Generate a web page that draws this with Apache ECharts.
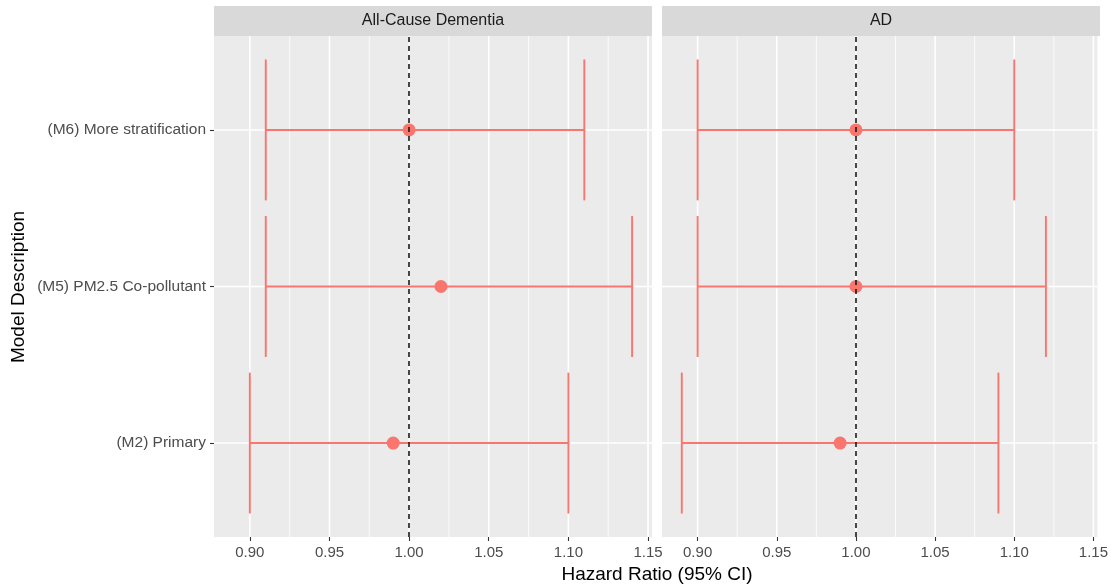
<!DOCTYPE html>
<html>
<head>
<meta charset="utf-8">
<script src="https://cdn.jsdelivr.net/npm/echarts@6/dist/echarts.min.js"></script>
<style>
  html, body { margin: 0; padding: 0; background: #ffffff; }
  #chart { width: 1111px; height: 586px; }
</style>
</head>
<body>
<div id="chart"></div>
<script>
// models, bottom to top
const models = ['(M2) Primary', '(M5) PM2.5 Co-pollutant', '(M6) More stratification']
const panels = ['All-Cause Dementia', 'AD']

const dementiaHR = [0.99, 1.02, 1.00]
const dementiaLower = [0.90, 0.91, 0.91]
const dementiaUpper = [1.10, 1.14, 1.11]

const adHR = [0.99, 1.00, 1.00]
const adLower = [0.89, 0.90, 0.90]
const adUpper = [1.09, 1.12, 1.10]

const xTicks = [0.90, 0.95, 1.00, 1.05, 1.10, 1.15]
const xMinor = [0.925, 0.975, 1.025, 1.075, 1.125]
const refHR = 1.0

const FONT = 'Liberation Sans, Arial, sans-serif'
const SALMON = '#F8766D'
const xMin = 0.8775, xMax = 1.1525

const chart = echarts.init(document.getElementById('chart'))

const grids = [
  { left: 214, top: 36, width: 438, height: 501 },
  { left: 662, top: 36, width: 438, height: 501 }
]

const xAxes = grids.map((g, i) => ({
  type: 'value',
  gridIndex: i,
  min: xMin,
  max: xMax,
  axisLine: { show: false },
  splitLine: { show: false },
  axisTick: { show: true, length: 4, customValues: xTicks, lineStyle: { color: '#333333', width: 1.1 } },
  axisLabel: {
    customValues: xTicks,
    formatter: v => v.toFixed(2),
    color: '#4D4D4D', fontSize: 15, fontFamily: FONT, margin: 8, hideOverlap: false
  }
}))

const yAxes = grids.map((g, i) => ({
  type: 'value',
  gridIndex: i,
  min: 0.4,
  max: 3.6,
  axisLine: { show: false },
  splitLine: { show: false },
  axisTick: { show: i === 0, length: 4, customValues: [1, 2, 3], lineStyle: { color: '#333333', width: 1.1 } },
  axisLabel: {
    show: i === 0,
    customValues: [1, 2, 3],
    formatter: v => models[Math.round(v) - 1] || '',
    color: '#4D4D4D', fontSize: 15.5, fontFamily: FONT, margin: 8
  }
}))

function gridSeries(idx) {
  const vLines = xTicks.map(v => [v, 1]).concat(xMinor.map(v => [v, 0]))
  const hLines = [1, 2, 3]
  return [
    {
      type: 'custom', xAxisIndex: idx, yAxisIndex: idx, z: 1, silent: true,
      data: vLines,
      renderItem: (params, api) => {
        const cs = params.coordSys
        const x = api.coord([api.value(0), 2])[0]
        return {
          type: 'line',
          shape: { x1: x, y1: cs.y, x2: x, y2: cs.y + cs.height },
          style: { stroke: '#ffffff', lineWidth: api.value(1) ? 1.6 : 0.8 }
        }
      }
    },
    {
      type: 'custom', xAxisIndex: idx, yAxisIndex: idx, z: 1, silent: true,
      data: hLines.map(v => [xMin, v]),
      renderItem: (params, api) => {
        const cs = params.coordSys
        const y = api.coord([xMin, api.value(1)])[1]
        return {
          type: 'line',
          shape: { x1: cs.x, y1: y, x2: cs.x + cs.width, y2: y },
          style: { stroke: '#ffffff', lineWidth: 1.6 }
        }
      }
    }
  ]
}

function errorSeries(idx, lower, upper) {
  return {
    type: 'custom', xAxisIndex: idx, yAxisIndex: idx, z: 3, silent: true,
    data: models.map((m, k) => [lower[k], k + 1, upper[k]]),
    renderItem: (params, api) => {
      const lo = api.coord([api.value(0), api.value(1)])
      const hi = api.coord([api.value(2), api.value(1)])
      const half = api.size([0, 0.9])[1] / 2
      const style = { stroke: SALMON, lineWidth: 1.9 }
      return {
        type: 'group',
        children: [
          { type: 'line', shape: { x1: lo[0], y1: lo[1], x2: hi[0], y2: hi[1] }, style },
          { type: 'line', shape: { x1: lo[0], y1: lo[1] - half, x2: lo[0], y2: lo[1] + half }, style },
          { type: 'line', shape: { x1: hi[0], y1: hi[1] - half, x2: hi[0], y2: hi[1] + half }, style }
        ]
      }
    }
  }
}

function pointSeries(idx, hr) {
  return {
    type: 'scatter', xAxisIndex: idx, yAxisIndex: idx, z: 4, silent: true,
    symbol: 'circle', symbolSize: 13,
    itemStyle: { color: SALMON, opacity: 1 },
    data: hr.map((v, k) => [v, k + 1])
  }
}

function refSeries(idx) {
  return {
    type: 'scatter', xAxisIndex: idx, yAxisIndex: idx, z: 5, silent: true,
    data: [],
    markLine: {
      silent: true, symbol: 'none', animation: false,
      label: { show: false },
      lineStyle: { color: '#1A1A1A', type: [5, 4], width: 1.6, opacity: 1 },
      data: [{ xAxis: refHR }]
    }
  }
}

const option = {
  backgroundColor: '#ffffff',
  animation: false,
  grid: grids.map(g => Object.assign({ backgroundColor: '#EBEBEB', show: true, borderWidth: 0 }, g)),
  xAxis: xAxes,
  yAxis: yAxes,
  graphic: [
    ...grids.map((g, i) => ({
      type: 'group', left: g.left, top: 6,
      children: [
        { type: 'rect', shape: { x: 0, y: 0, width: g.width, height: 30 }, style: { fill: '#D9D9D9' } },
        { type: 'text', x: g.width / 2, y: 15, style: { text: panels[i], fill: '#1A1A1A', font: '16px ' + FONT, align: 'center', verticalAlign: 'middle' } }
      ]
    })),
    { type: 'text', x: 657, y: 575, style: { text: 'Hazard Ratio (95% CI)', fill: '#000000', font: '19px ' + FONT, align: 'center', verticalAlign: 'middle' } },
    { type: 'text', x: 19, y: 287, rotation: Math.PI / 2, style: { text: 'Model Description', fill: '#000000', font: '19px ' + FONT, align: 'center', verticalAlign: 'middle' } }
  ],
  series: [
    ...gridSeries(0), ...gridSeries(1),
    errorSeries(0, dementiaLower, dementiaUpper),
    errorSeries(1, adLower, adUpper),
    pointSeries(0, dementiaHR),
    pointSeries(1, adHR),
    refSeries(0), refSeries(1)
  ]
}

chart.setOption(option)
</script>
</body>
</html>
